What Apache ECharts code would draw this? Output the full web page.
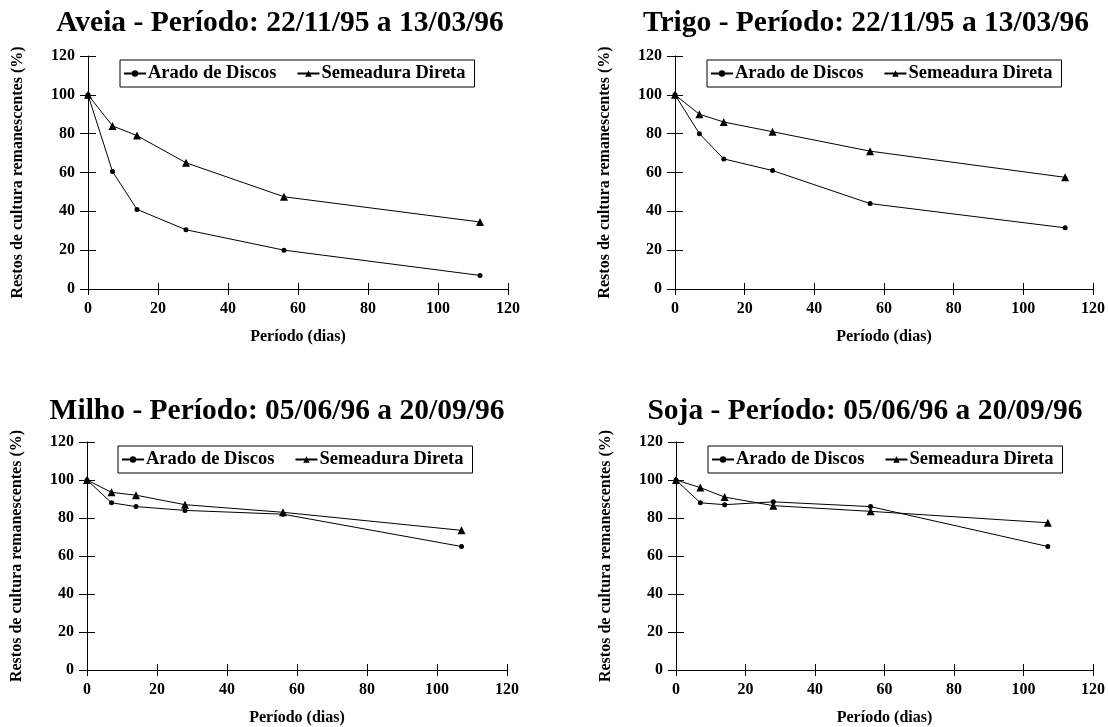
<!DOCTYPE html>
<html>
<head>
<meta charset="utf-8">
<script src="https://cdn.jsdelivr.net/npm/echarts@6/dist/echarts.min.js"></script>
<style>
  html, body { margin: 0; padding: 0; background: #fff; }
  #chart { width: 1108px; height: 727px; }
</style>
</head>
<body>
<div id="chart"></div>
<script>
'use strict';

// dias de coleta
const diasVerao = [0, 7, 14, 28, 56, 112];
const diasInverno = [0, 7, 14, 28, 56, 107];

// restos de cultura remanescentes (%)
const aradoAveia = [100, 60.5, 41, 30.5, 20, 7];
const diretaAveia = [100, 84, 79, 65, 47.5, 34.5];
const aradoTrigo = [100, 80, 67, 61, 44, 31.5];
const diretaTrigo = [100, 90, 86, 81, 71, 57.5];
const aradoMilho = [100, 88, 86, 84, 82, 65];
const diretaMilho = [100, 93.5, 92, 87, 83, 73.5];
const aradoSoja = [100, 88, 87, 88.5, 86, 65];
const diretaSoja = [100, 96, 91, 86.5, 83.5, 77.5];

const titulos = [
    'Aveia - Período: 22/11/95 a 13/03/96',
    'Trigo - Período: 22/11/95 a 13/03/96',
    'Milho - Período: 05/06/96 a 20/09/96',
    'Soja - Período: 05/06/96 a 20/09/96'
];
const nomesSeries = ['Arado de Discos', 'Semeadura Direta'];
const xTicks = [0, 20, 40, 60, 80, 100, 120];
const yTicks = [0, 20, 40, 60, 80, 100, 120];

const dados = [
    [diasVerao, aradoAveia, diretaAveia],
    [diasVerao, aradoTrigo, diretaTrigo],
    [diasInverno, aradoMilho, diretaMilho],
    [diasInverno, aradoSoja, diretaSoja]
];

// layout de cada painel
const paineis = [
    { left: 88, top: 56, w: 420, h: 233, titleX: 280, titleY: 8, legX: 120, legY: 60 },
    { left: 675, top: 56, w: 419, h: 233, titleX: 866, titleY: 8, legX: 707, legY: 60 },
    { left: 87, top: 442, w: 420, h: 233, titleX: 277, titleY: 396, legX: 118, legY: 446 },
    { left: 676, top: 442, w: 420, h: 233, titleX: 865, titleY: 396, legX: 708, legY: 446 }
];

const fonte = '"Liberation Serif", "Times New Roman", serif';

let grid = [], xAxis = [], yAxis = [], series = [], title = [], legend = [];

paineis.forEach(function (p, i) {
    grid.push({ left: p.left, top: p.top, width: p.w, height: p.h });
    title.push({
        text: titulos[i], left: p.titleX, top: p.titleY, textAlign: 'center', padding: 0,
        textStyle: { fontFamily: fonte, fontSize: 29.5, fontWeight: 'bold', color: '#000' }
    });
    legend.push({
        data: nomesSeries, left: p.legX, top: p.legY, orient: 'horizontal',
        borderColor: '#000', borderWidth: 1, padding: [4, 9, 4, 3], itemGap: 20,
        itemWidth: 22, itemHeight: 8, selectedMode: false,
        textStyle: { fontFamily: fonte, fontSize: 18.5, fontWeight: 'bold', color: '#000', padding: [0, 0, 0, -3] }
    });
    let axLine = { show: true, onZero: false, lineStyle: { color: '#000', width: 1 } };
    let nome = { fontFamily: fonte, fontSize: 16, fontWeight: 'bold', color: '#000' };
    let lbl = { fontFamily: fonte, fontSize: 16, fontWeight: 'bold', color: '#000' };
    let base = { type: 'value', gridIndex: i, min: xTicks[0], max: xTicks[xTicks.length - 1], interval: 20, splitLine: { show: false } };
    let baseY = { type: 'value', gridIndex: i, min: yTicks[0], max: yTicks[yTicks.length - 1], interval: 20, splitLine: { show: false } };
    // eixo principal
    xAxis.push(Object.assign({}, base, {
        position: 'bottom',
        name: 'Período (dias)', nameLocation: 'middle', nameGap: 40, nameTextStyle: nome,
        axisLine: axLine, axisTick: { show: false },
        axisLabel: Object.assign({ margin: 12 }, lbl)
    }));
    // ticks cruzando o eixo (deslocado para cima)
    xAxis.push(Object.assign({}, base, {
        position: 'bottom', offset: -6, axisLine: { show: false, onZero: false },
        axisTick: { show: true, length: 12, lineStyle: { color: '#000' } },
        axisLabel: { show: false }
    }));
    yAxis.push(Object.assign({}, baseY, {
        position: 'left',
        name: 'Restos de cultura remanescentes (%)', nameLocation: 'middle', nameGap: 62, nameTextStyle: nome,
        axisLine: axLine, axisTick: { show: false },
        axisLabel: Object.assign({ margin: 13 }, lbl)
    }));
    yAxis.push(Object.assign({}, baseY, {
        position: 'left', offset: -8, axisLine: { show: false, onZero: false },
        axisTick: { show: true, length: 16, lineStyle: { color: '#000' } },
        axisLabel: { show: false }
    }));
    let d = dados[i];
    [1, 2].forEach(function (k) {
        series.push({
            name: nomesSeries[k - 1], type: 'line',
            xAxisIndex: i * 2, yAxisIndex: i * 2,
            data: d[0].map(function (x, j) { return [x, d[k][j]]; }),
            symbol: k === 1 ? 'circle' : 'triangle',
            symbolSize: k === 1 ? 5 : 8,
            itemStyle: { color: '#000' },
            lineStyle: { color: '#000', width: 1 },
            animation: false
        });
    });
});

let myChart = echarts.init(document.getElementById('chart'));
myChart.setOption({
    backgroundColor: '#fff',
    animation: false,
    title: title,
    legend: legend,
    grid: grid,
    xAxis: xAxis,
    yAxis: yAxis,
    series: series
});
</script>
</body>
</html>
